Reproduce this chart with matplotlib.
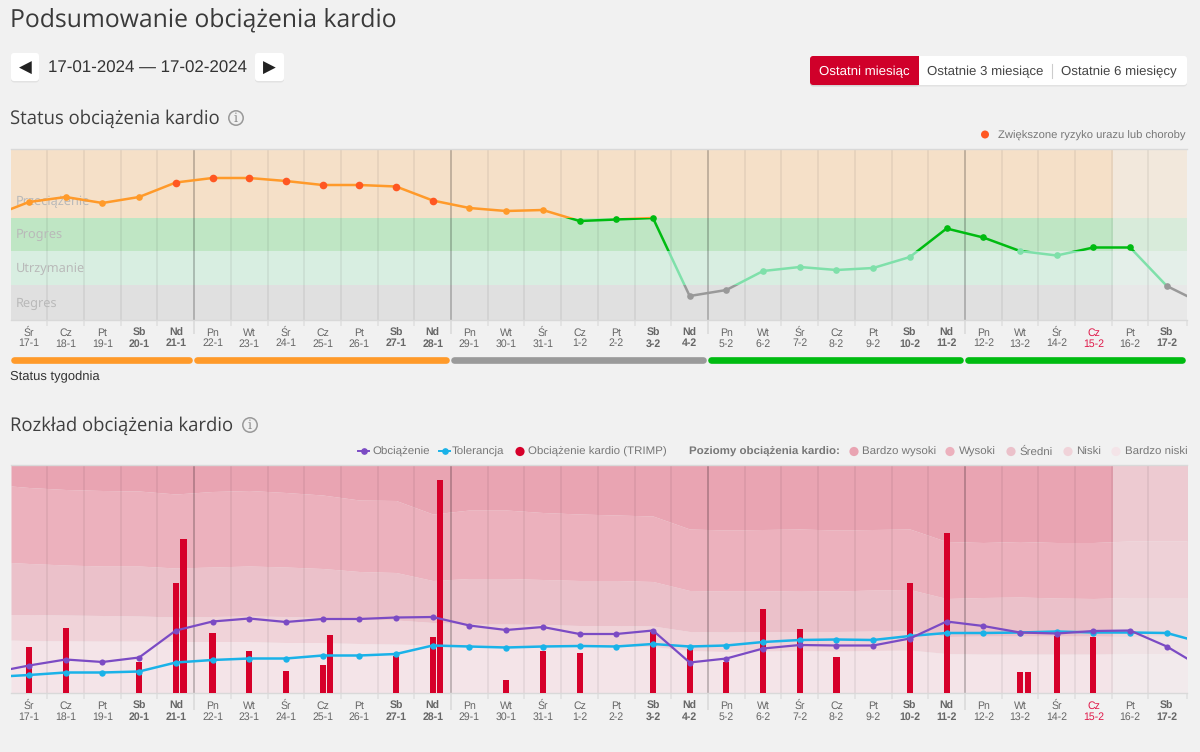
#!/usr/bin/env python3
"""Cardio load summary screen: status chart on top, load distribution below."""

import matplotlib
matplotlib.use("Agg")
import matplotlib.pyplot as plt
from matplotlib.patches import Circle, FancyBboxPatch, Rectangle

plt.rcParams["text.hinting"] = "none"

W, H = 1200, 752
BG = "#f1f1f1"
SANS = "Liberation Sans"
HEAD = "Open Sans"

weekdays = ["Śr", "Cz", "Pt", "Sb", "Nd", "Pn", "Wt", "Śr", "Cz", "Pt", "Sb", "Nd", "Pn", "Wt", "Śr", "Cz",
            "Pt", "Sb", "Nd", "Pn", "Wt", "Śr", "Cz", "Pt", "Sb", "Nd", "Pn", "Wt", "Śr", "Cz", "Pt", "Sb"]
dates = ["17-1", "18-1", "19-1", "20-1", "21-1", "22-1", "23-1", "24-1", "25-1", "26-1", "27-1", "28-1",
         "29-1", "30-1", "31-1", "1-2", "2-2", "3-2", "4-2", "5-2", "6-2", "7-2", "8-2", "9-2", "10-2",
         "11-2", "12-2", "13-2", "14-2", "15-2", "16-2", "17-2"]
highlighted_date = "15-2"
days = list(range(len(dates)))
XMIN, XMAX = -0.49, 31.55
# series run past both ends of the plot, so they have one extra value per side
series_x = [XMIN] + days + [XMAX]

# status chart
zone_names = ["Regres", "Utrzymanie", "Progres", "Przeciążenie"]
zone_edges = [0, 35, 69.5, 102.5, 171]
zone_fill = ["#e0e0e0", "#d8eee1", "#bfe6c4", "#f5e0c8"]
zone_line = ["#999999", "#7fe0aa", "#00bb11", "#ff9a2a"]
status = [111, 118, 123, 117, 123, 137.5, 142, 142, 139, 135, 135, 133.5, 119.5, 112, 109, 110, 99, 100.5,
          102, 24, 30, 49, 53, 50, 52, 63, 91.5, 82.5, 69, 64.5, 72.5, 72.5, 34, 24]
risk_dates = ["21-1", "22-1", "23-1", "24-1", "25-1", "26-1", "27-1", "28-1"]
week_edges = [-0.49, 4.5, 11.5, 18.5, 25.5, 31.55]
week_status = ["#ff9a2a", "#ff9a2a", "#9a9a9a", "#00bb11", "#00bb11"]
future_start = 29.54

# load chart
band_names = ["Bardzo niski", "Niski", "Średni", "Wysoki", "Bardzo wysoki"]
band_fill = ["#f4e4e8", "#f0d3d9", "#ebc1ca", "#ecb1bd", "#e9a4b2"]
niski_top = [52.5, 52, 51.8, 51.5, 51.5, 51, 51, 51, 50, 50, 49, 48.5, 47.5, 47.5, 46.8, 46.5, 46.5, 46.2,
             46, 42, 41, 41.5, 42, 41.5, 42, 42.5, 39, 38.5, 38.5, 38.5, 38.5, 39, 39, 39]
sredni_top = [78, 78, 77.5, 77, 76.5, 75.5, 76, 76.5, 76, 75, 73.5, 72.5, 70, 68.5, 68.5, 68, 67, 67, 66.5,
              61, 60.5, 61, 61, 61, 61.5, 62, 56, 56.5, 56.5, 56.5, 56.5, 56, 56.5, 56.5]
wysoki_top = [130, 129, 127.5, 126.5, 126.5, 124.5, 125.5, 126.5, 125.5, 124, 121, 120, 112, 114, 114, 113,
              112, 112, 111, 102, 101.5, 101.5, 102, 101.5, 102.5, 103, 94, 95, 95.5, 94.5, 94, 95, 95, 95]
bardzo_wysoki_top = [206.5, 205, 203, 202, 201.5, 198.5, 201, 202, 200, 197.5, 192.5, 192, 178.5, 182.5,
                     182.5, 180, 178.5, 177.5, 176.5, 163.5, 162.5, 163, 163.5, 162.5, 163, 163.5, 151,
                     150, 151, 150, 150, 151.5, 151.5, 151.5]
load = [23.5, 27, 33, 30.5, 35, 62, 71, 74, 70.5, 73.5, 73.5, 75, 75.5, 67, 62.5, 65.5, 58.5, 58.5, 62, 30,
        34, 44, 47.5, 47, 47, 54, 71, 66.5, 60, 59, 61.5, 62, 46, 34]
tolerance = [16.5, 17.5, 20, 20, 21, 30, 32.5, 34, 34, 37, 37, 38.5, 47, 46, 45, 46, 46.5, 46, 48.5, 46, 47,
             50.5, 52.5, 53, 52.5, 56.5, 59.5, 59.5, 60, 61, 60, 60, 59.5, 54]
trimp_dates = ["17-1", "18-1", "20-1", "21-1", "22-1", "23-1", "24-1", "25-1", "27-1", "28-1", "30-1", "31-1",
               "1-2", "3-2", "4-2", "5-2", "6-2", "7-2", "8-2", "10-2", "11-2", "13-2", "14-2", "15-2"]
trimp_first = [46, 65, 31, 110, 60, 42, 22, 28, 37, 56, 13, 42, 40, 61, 44, 31, 84, 64, 36, 110, 160, 21, 57, 56]
trimp_second = {"21-1": 154, "25-1": 58, "28-1": 213, "13-2": 21}


def px_axes(fig, left, top, right, bottom):
    return fig.add_axes([left / W, 1 - bottom / H, (right - left) / W, (bottom - top) / H])


def style_axes(ax, ymax, pad):
    ax.set_xlim(XMIN, XMAX)
    ax.set_ylim(0, ymax)
    ax.set_facecolor("none")
    ax.set_yticks([])
    ax.set_xticks(days, [f"{d}\n{t}" for d, t in zip(weekdays, dates)])
    ax.tick_params(axis="x", length=0, pad=pad)
    for label, wd, date in zip(ax.get_xticklabels(), weekdays, dates):
        label.set_fontfamily(SANS)
        label.set_fontsize(7.6)
        label.set_linespacing(1.06)
        label.set_color("#e0194a" if date == highlighted_date else "#666666")
        if wd in ("Sb", "Nd"):
            label.set_fontweight("bold")
    for side in ("left", "right"):
        ax.spines[side].set_visible(False)
    for side in ("top", "bottom"):
        ax.spines[side].set_color("#d9d9d9")
        ax.spines[side].set_linewidth(1)


def draw_grid(ax, ymax, tick, monday_tick):
    for d in days:
        x = d + 0.5
        if x in week_edges:
            ax.vlines(x, 0, ymax, color="black", alpha=0.27, lw=1.1, zorder=2)
            ax.vlines(x, monday_tick, 0, color="black", alpha=0.1, lw=1.1, zorder=2, clip_on=False)
        elif d == days[-1]:
            ax.vlines(XMAX - 0.01, tick, 0, color="black", alpha=0.07, lw=1.1, zorder=2, clip_on=False)
        else:
            ax.vlines(x, tick, ymax, color="black", alpha=0.07, lw=1.1, zorder=2, clip_on=False)


def draw_future(ax, ymax):
    ax.add_patch(Rectangle((future_start, 0), XMAX - future_start, ymax, color=BG, alpha=0.5, lw=0, zorder=1.5))


def button(ui, x0, y0, x1, y1, color="white"):
    ui.add_patch(FancyBboxPatch((x0, y0 + 1.5), x1 - x0, y1 - y0, boxstyle="round,pad=0,rounding_size=3",
                                fc="black", ec="none", alpha=0.06))
    ui.add_patch(FancyBboxPatch((x0, y0), x1 - x0, y1 - y0, boxstyle="round,pad=0,rounding_size=3",
                                fc=color, ec="none"))


def info_icon(ui, x, y):
    ui.add_patch(Circle((x, y), 7.2, fc="none", ec="#999999", lw=1.1))
    ui.text(x, y + 0.3, "i", ha="center", va="center", fontsize=9, color="#888888", family="DejaVu Serif")


def legend_text(ui, x, y, s, weight="normal"):
    ui.text(x, y + 1, s, ha="left", va="center", fontsize=8.25, color="#777777", family=SANS, fontweight=weight)


fig = plt.figure(figsize=(W / 100, H / 100), dpi=100, facecolor=BG)

# page furniture in pixel coordinates
ui = fig.add_axes([0, 0, 1, 1])
ui.set_xlim(0, W)
ui.set_ylim(H, 0)
ui.axis("off")

ui.text(10, 20, "Podsumowanie obciążenia kardio", fontsize=17.8, color="#3a3a3a", family=HEAD, va="center")
ui.text(10, 118.5, "Status obciążenia kardio", fontsize=13.35, color="#3f3f3f", family=HEAD, va="center")
ui.text(10, 425.5, "Rozkład obciążenia kardio", fontsize=13.35, color="#3f3f3f", family=HEAD, va="center")
info_icon(ui, 236, 118)
info_icon(ui, 250, 425)

button(ui, 11, 53, 39, 81)
button(ui, 255, 53, 284, 81)
ui.text(25, 68, "◀", ha="center", va="center", fontsize=12, color="#222222", family="DejaVu Sans")
ui.text(269.5, 68, "▶", ha="center", va="center", fontsize=12, color="#222222", family="DejaVu Sans")
ui.text(147, 68.5, "17-01-2024 — 17-02-2024", ha="center", va="center", fontsize=12.2, color="#333333", family=SANS)

button(ui, 810, 56, 1187, 85)
button(ui, 810, 56, 919, 85, color="#d0002a")
ui.add_patch(Rectangle((915, 56), 4, 29, fc="#d0002a", ec="none"))
ui.text(864.5, 71.5, "Ostatni miesiąc", ha="center", va="center", fontsize=9.5, color="white", family=SANS)
ui.text(985.5, 71.5, "Ostatnie 3 miesiące", ha="center", va="center", fontsize=9.5, color="#444444", family=SANS)
ui.text(1119, 71.5, "Ostatnie 6 miesięcy", ha="center", va="center", fontsize=9.5, color="#444444", family=SANS)
ui.plot([1051.5, 1051.5], [64, 78], color="#cccccc", lw=0.8)

ui.add_patch(Circle((985, 134.5), 4, fc="#ff5722", ec="none"))
ui.text(1186, 135.5, "Zwiększone ryzyko urazu lub choroby", ha="right", va="center", fontsize=8.15,
        color="#777777", family=SANS)
ui.text(10, 377, "Status tygodnia", fontsize=9.4, color="#333333", family=SANS, va="center")

# legend of the load chart
legend_y = 451
ui.plot([358, 369], [legend_y, legend_y], color="#7b4bc4", lw=1.4)
ui.plot([363.5], [legend_y], color="#7b4bc4", marker="o", ms=3.8)
legend_text(ui, 372, legend_y, "Obciążenie")
ui.plot([439, 450], [legend_y, legend_y], color="#1ab2e8", lw=1.4)
ui.plot([444.5], [legend_y], color="#1ab2e8", marker="o", ms=3.8)
legend_text(ui, 452, legend_y, "Tolerancja")
ui.add_patch(Circle((520, legend_y + 0.5), 4.6, fc="#d6002a", ec="none"))
legend_text(ui, 528, legend_y, "Obciążenie kardio (TRIMP)")
legend_text(ui, 689, legend_y, "Poziomy obciążenia kardio:", weight="bold")
for name, dot_x, text_x in zip(band_names, [1116, 1068, 1011, 950, 854], [1125, 1076, 1019, 959, 862]):
    ui.add_patch(Circle((dot_x, legend_y + 0.5), 4.6, fc=band_fill[band_names.index(name)], ec="none"))
    legend_text(ui, text_x, legend_y, name)

# status chart
ax1 = px_axes(fig, 11, 149, 1187, 320)
style_axes(ax1, 171, pad=5.6)
for lo, hi, fill, name in zip(zone_edges[:-1], zone_edges[1:], zone_fill, zone_names):
    ax1.axhspan(lo, hi, color=fill, lw=0, zorder=1)
    ax1.text(XMIN + 0.14, lo + 17.5, name, fontsize=9.2, color="#b9b9b9", family="Noto Sans",
             va="center_baseline", zorder=2.5)
draw_future(ax1, 171)
draw_grid(ax1, 171, -6, -14)

# the line takes the colour of the zone it is passing through
for lo, hi, color in zip(zone_edges[:-1], zone_edges[1:], zone_line):
    line, = ax1.plot(series_x, status, color=color, lw=1.8, zorder=4)
    line.set_clip_path(Rectangle((XMIN, lo), XMAX - XMIN, hi - lo, transform=ax1.transData))

for d, date, value in zip(days, dates, status[1:-1]):
    zone = sum(value >= edge for edge in zone_edges[1:-1])
    risky = date in risk_dates
    ax1.plot([d], [value], "o", color="#ff5722" if risky else zone_line[zone], ms=5.5 if risky else 4.8, mew=0, zorder=5)

for x0, x1, color in zip(week_edges[:-1], week_edges[1:], week_status):
    ax1.plot([x0 + 0.09, x1 - 0.14], [-40, -40], color=color, lw=4.8, solid_capstyle="round", clip_on=False, zorder=3)

# load chart
ax2 = px_axes(fig, 11, 465, 1187, 692.5)
style_axes(ax2, 227.5, pad=6.2)
band_tops = [niski_top, sredni_top, wysoki_top, bardzo_wysoki_top]
lowers = [[0] * len(series_x)] + band_tops
uppers = band_tops + [[227.5] * len(series_x)]
for lower, upper, fill in zip(lowers, uppers, band_fill):
    ax2.fill_between(series_x, lower, upper, color=fill, lw=0, zorder=1)
draw_future(ax2, 227.5)
draw_grid(ax2, 227.5, -6, -17)

trimp_x = [dates.index(d) for d in trimp_dates]
ax2.bar(trimp_x, trimp_first, width=0.165, color="#d6002a", zorder=3)
ax2.bar([dates.index(d) + 0.21 for d in trimp_second], list(trimp_second.values()), width=0.165,
        color="#d6002a", zorder=3)

ax2.plot(series_x, tolerance, color="#1ab2e8", lw=1.8, zorder=5)
ax2.plot(days, tolerance[1:-1], "o", color="#1ab2e8", ms=4.6, mew=0, zorder=5)
ax2.plot(series_x, load, color="#7b4bc4", lw=1.6, zorder=6)
ax2.plot(days, load[1:-1], "o", color="#7b4bc4", ms=4.4, mew=0, zorder=6)

fig.savefig("out.png", dpi=100, facecolor=BG)
